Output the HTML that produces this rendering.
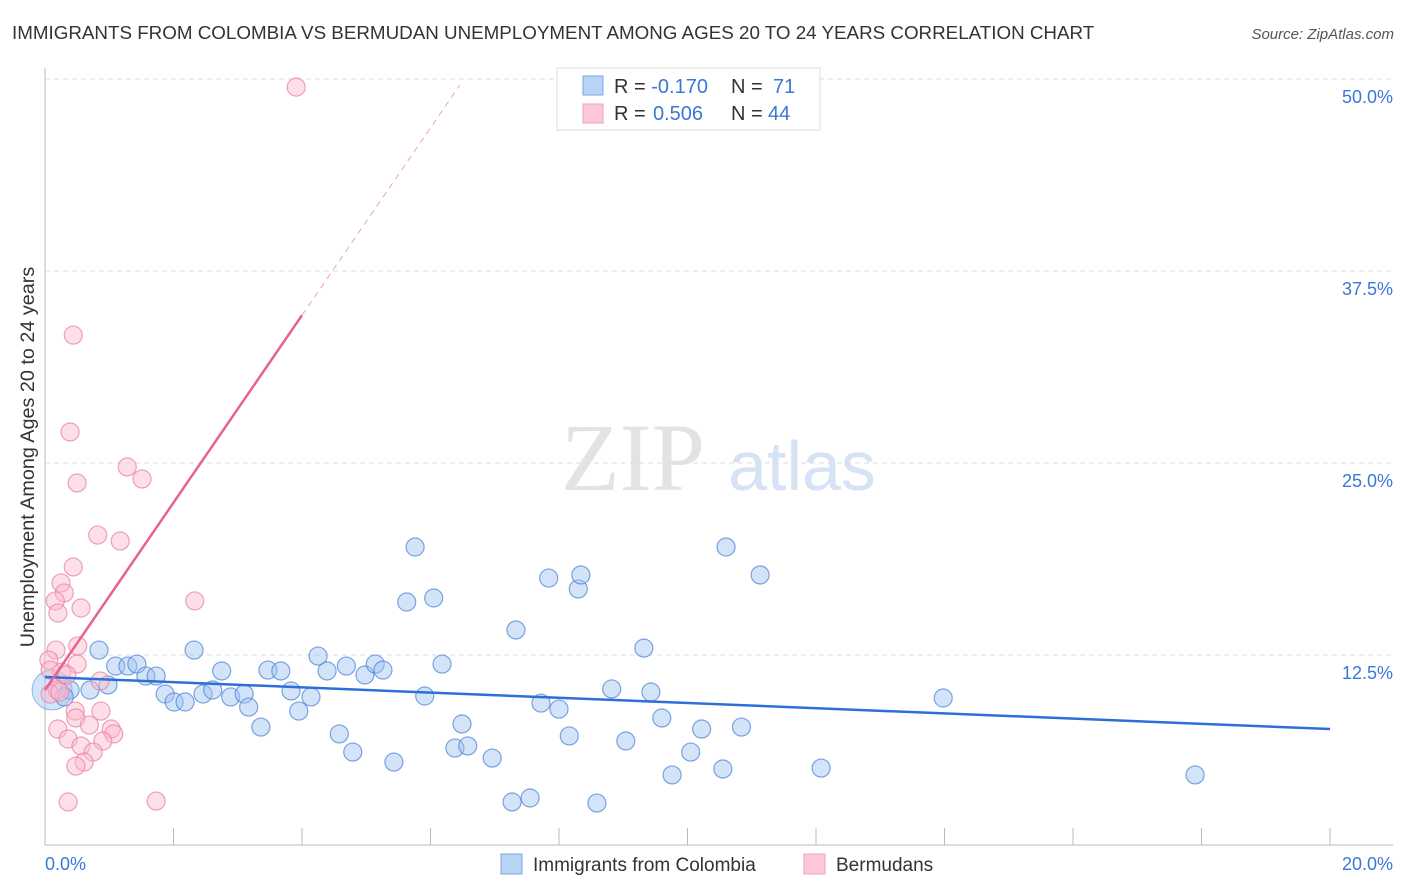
<!DOCTYPE html>
<html><head><meta charset="utf-8"><style>
body{margin:0;background:#fff;font-family:"Liberation Sans",sans-serif;}
#wrap{position:relative;width:1406px;height:892px;overflow:hidden;}
</style></head><body>
<div id="wrap">
<svg id="svg" width="1406" height="892" xmlns="http://www.w3.org/2000/svg">
<text x="12" y="39" font-size="18.8" fill="#333">IMMIGRANTS FROM COLOMBIA VS BERMUDAN UNEMPLOYMENT AMONG AGES 20 TO 24 YEARS CORRELATION CHART</text>
<text x="1394" y="39" font-size="15" fill="#555" font-style="italic" text-anchor="end">Source: ZipAtlas.com</text>
<text x="633" y="490" font-size="96" fill="#e3e3e3" font-family="Liberation Serif,serif" text-anchor="middle">ZIP</text>
<text x="802" y="490" font-size="70" fill="#d6e3f5" text-anchor="middle">atlas</text>
<text transform="translate(34,457) rotate(-90)" font-size="19.8" fill="#333" text-anchor="middle">Unemployment Among Ages 20 to 24 years</text>
<g id="grid"></g><g id="marks"></g>
<g>
<rect x="557" y="68" width="263" height="62" fill="#fff" stroke="#ddd"/>
<rect x="583" y="76" width="20" height="19" fill="#b9d3f5" stroke="#7aa6e6"/>
<rect x="583" y="104" width="20" height="19" fill="#fcc8d8" stroke="#f0a0ba"/>
<text x="614" y="93" font-size="20" fill="#333">R = <tspan fill="#3a78d4">-0.170</tspan><tspan x="731">N = </tspan><tspan x="773" fill="#3a78d4">71</tspan></text>
<text x="614" y="120" font-size="20" fill="#333">R = <tspan x="653" fill="#3a78d4">0.506</tspan><tspan x="731">N = </tspan><tspan x="768" fill="#3a78d4">44</tspan></text>
</g>
<g>
<rect x="501" y="854" width="21" height="20" fill="#b9d3f5" stroke="#7aa6e6"/>
<text x="533" y="871" font-size="19" fill="#333">Immigrants from Colombia</text>
<rect x="804" y="854" width="21" height="20" fill="#fcc8d8" stroke="#f0a0ba"/>
<text x="836" y="871" font-size="19" fill="#333">Bermudans</text>
</g>
</svg></div>
<script>
const yTicks=[12.5,25,37.5,50];
const yTickLabels=["12.5%","25.0%","37.5%","50.0%"];
const xTicks=[0,2,4,6,8,10,12,14,16,18,20];
const blueX=[0.84,1.10,1.29,1.43,1.57,1.73,0.98,0.70,0.39,0.30,1.87,2.01,2.18,2.32,2.46,2.61,2.75,2.89,3.10,3.17,3.36,3.47,3.67,3.83,3.95,4.14,4.25,4.39,4.58,4.69,4.79,4.98,5.14,5.26,5.43,5.63,5.76,5.91,6.05,6.18,6.38,6.49,6.58,6.96,7.27,7.33,7.55,7.72,7.84,8.00,8.16,8.30,8.34,8.59,8.82,9.04,9.32,9.43,9.60,9.76,10.05,10.22,10.55,10.60,10.84,11.13,12.08,13.98,17.90];
const blueY=[12.82,11.78,11.78,11.91,11.13,11.13,10.55,10.22,10.22,9.77,9.96,9.44,9.44,12.82,9.96,10.22,11.46,9.77,9.96,9.11,7.81,11.52,11.46,10.16,8.85,9.77,12.43,11.46,7.36,11.78,6.18,11.20,11.91,11.52,5.53,15.95,19.53,9.83,16.21,11.91,6.44,8.01,6.58,5.79,2.93,14.13,3.19,9.37,17.51,8.98,7.23,16.80,17.71,2.86,10.29,6.90,12.95,10.09,8.40,4.69,6.18,7.68,5.08,19.53,7.81,17.71,5.14,9.70,4.69];
const pinkX=[3.91,0.44,0.39,1.28,1.51,0.50,0.82,1.17,0.44,0.25,0.30,0.16,0.56,0.20,2.33,0.51,0.17,0.06,0.50,0.26,0.08,0.34,0.86,0.19,0.08,0.47,0.87,0.48,0.69,0.20,1.03,1.07,0.36,0.90,0.56,0.75,0.61,0.48,0.36,1.73,0.23];
const pinkY=[49.47,33.33,27.02,24.74,23.96,23.70,20.31,19.92,18.23,17.19,16.54,16.02,15.56,15.23,16.02,13.09,12.82,12.17,11.91,11.39,11.52,11.20,10.81,10.22,9.96,8.85,8.85,8.40,7.94,7.68,7.68,7.36,7.03,6.90,6.58,6.18,5.53,5.27,2.93,2.99,10.09];
const blueLine=[11.07,7.68];
const pinkLine=[10.22,6.10];
const NS="http://www.w3.org/2000/svg";
const X=v=>45+v/20*1285, Y=v=>847-v/12.5*192;
function mk(tag,attrs,parent){const e=document.createElementNS(NS,tag);for(const k in attrs)e.setAttribute(k,attrs[k]);parent.appendChild(e);return e;}
const grid=document.getElementById('grid'),marks=document.getElementById('marks');
yTicks.forEach((t,i)=>{
 const l=mk('line',{x1:45,x2:1393,y1:Y(t),y2:Y(t),stroke:'#ddd','stroke-dasharray':'5,4'},grid);
 
 
 const tx=mk('text',{x:1393,y:Y(t)+24,'font-size':18,fill:'#3a78d4','text-anchor':'end'},grid);
 tx.textContent=yTickLabels[i];
 
 
});
const ax=mk('line',{x1:45,x2:1393,y1:845,y2:845,stroke:'#bbb'},grid);


const ay=mk('line',{x1:45,x2:45,y1:68,y2:845,stroke:'#bbb'},grid);


xTicks.forEach(t=>{
 const l=mk('line',{x1:X(t),x2:X(t),y1:828,y2:845,stroke:'#bbb'},grid);
 
 
});
[[0,'0.0%','start',45],[20,'20.0%','end',1393]].forEach(a=>{
 const tx=mk('text',{x:a[3],y:870,'font-size':18,fill:'#3a78d4','text-anchor':a[2]},grid);
 tx.textContent=a[1];
 
 
});
const big=mk('circle',{cx:X(0.11),cy:Y(10.22),r:20,fill:'rgba(160,195,240,0.45)',stroke:'rgba(90,140,215,0.6)'},marks);


blueX.forEach((v,i)=>{
 const c=mk('circle',{cx:X(v),cy:Y(blueY[i]),r:9,fill:'rgba(160,195,240,0.45)',stroke:'rgba(80,135,215,0.75)','stroke-width':1.2},marks);
 
 
});
pinkX.forEach((v,i)=>{
 const c=mk('circle',{cx:X(v),cy:Y(pinkY[i]),r:9,fill:'rgba(250,185,205,0.45)',stroke:'rgba(235,130,165,0.75)','stroke-width':1.2},marks);
 
 
});
const bl=mk('line',{x1:X(0),y1:Y(blueLine[0]),x2:X(20),y2:Y(blueLine[1]),stroke:'#2d6fd6','stroke-width':2.5},marks);


const pxEnd=Math.max(...pinkX)+0.09;
const pl=mk('line',{x1:X(0),y1:Y(pinkLine[0]),x2:X(pxEnd),y2:Y(pinkLine[0]+pinkLine[1]*pxEnd),stroke:'#e8628f','stroke-width':2.5},marks);


const xTop=(49.6-pinkLine[0])/pinkLine[1];
const pd=mk('line',{x1:X(pxEnd),y1:Y(pinkLine[0]+pinkLine[1]*pxEnd),x2:X(xTop),y2:Y(49.6),stroke:'#f0a0ba','stroke-width':1,'stroke-dasharray':'6,5'},marks);


</script>
</body></html>
